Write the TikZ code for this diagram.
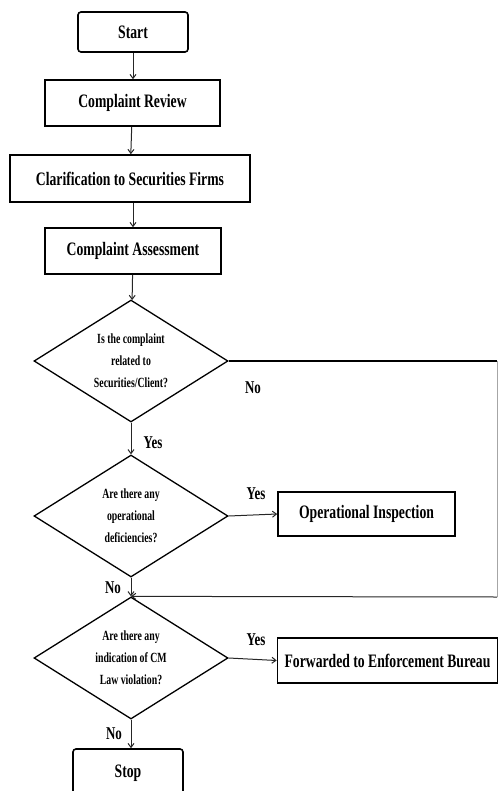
\documentclass[tikz,border=0pt]{standalone}
\usepackage{fontspec}
\setmainfont{Liberation Serif}[FakeStretch=0.72]
\newfontfamily\dfont{Liberation Serif}[FakeStretch=0.70]
\usetikzlibrary{shapes.geometric,arrows.meta}
\begin{document}
\begin{tikzpicture}[x=1pt,y=-1pt,
  box/.style={draw,line width=1.6pt,inner sep=0pt,font=\fontsize{19}{21}\selectfont\bfseries},
  rbox/.style={box,rounded corners=3pt},
  dec/.style={draw,line width=1.3pt,shape=diamond,aspect=1.58,inner sep=0pt,
    minimum width=194pt,minimum height=122pt,align=center,
    font=\dfont\fontsize{14}{22}\selectfont\bfseries},
  conn/.style={line width=1pt,black!85,-{Straight Barb[length=4pt,width=6pt]}},
  lab/.style={font=\fontsize{18}{20}\selectfont\bfseries,inner sep=0pt}]
\useasboundingbox (0,0) rectangle (500,791);
\node[rbox,minimum width=110pt,minimum height=40pt] (start) at (133,32) {Start};
\node[box,minimum width=175pt,minimum height=46pt] (review) at (132.5,103) {Complaint Review};
\node[box,minimum width=240pt,minimum height=47pt] (clar) at (130,178.5) {Clarification to Securities Firms};
\node[box,minimum width=176pt,minimum height=46pt] (assess) at (133,251) {Complaint Assessment};
\node[dec] (d1) at (131,361) {Is the complaint\\related to\\Securities/Client?};
\node[dec] (d2) at (131,516) {Are there any\\operational\\deficiencies?};
\node[dec] (d3) at (131,658) {Are there any\\indication of CM\\Law violation?};
\node[box,minimum width=177pt,minimum height=44pt] (opin) at (366.5,514) {Operational Inspection};
\node[box,minimum width=220pt,minimum height=45pt] (fwd) at (387.5,660.5) {Forwarded to Enforcement Bureau};
\node[rbox,minimum width=110pt,minimum height=48pt] (stop) at (128,773) {Stop};
\coordinate (r1) at (497,361);
\coordinate (r2) at (497,597);
\draw[conn] (start.south) -- (review.north -| start.south);
\draw[conn] (review) -- (clar);
\draw[conn] (clar.south -| assess.north) -- (assess.north);
\draw[conn] (assess) -- (d1);
\draw[conn] (d1) -- (d2);
\draw[conn] (d2) -- (d3);
\draw[conn] (d2.east) -- (opin.west);
\draw[conn] (d3.east) -- (fwd.west);
\draw[conn] (d3.south) -- (d3.south |- stop.north);
\draw[line width=2.2pt] (d1.east) -- (r1);
\draw[line width=0.6pt,black!35] (r1) -- (r2);
\draw[conn] (r2) -- (d3.north);
\node[lab] at (253,388) {No};
\node[lab] at (153,443) {Yes};
\node[lab] at (256,494) {Yes};
\node[lab] at (113,588) {No};
\node[lab] at (256,640) {Yes};
\node[lab] at (114,734) {No};
\end{tikzpicture}
\end{document}
